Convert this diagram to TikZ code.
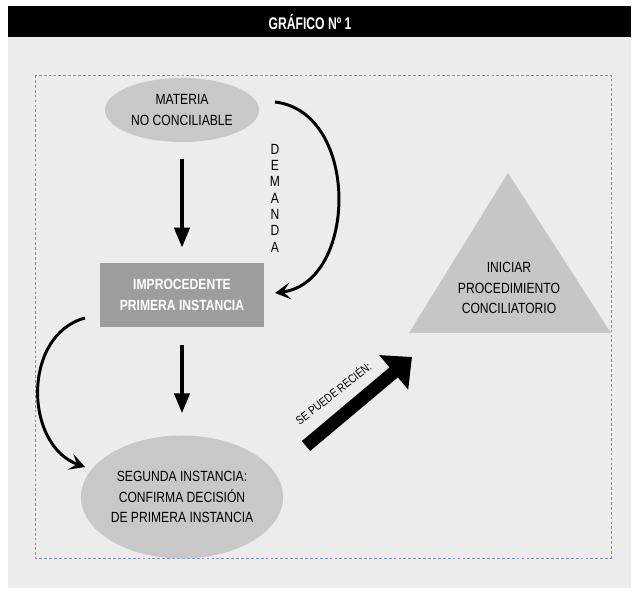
\documentclass[tikz,border=0pt]{standalone}
\usepackage{fontspec}
\setmainfont{Liberation Sans}[FakeStretch=0.82]
\newfontfamily\titlefont{Liberation Sans}[FakeStretch=0.72]
\usepackage{tikz}
\usetikzlibrary{shapes.geometric,arrows.meta}
\definecolor{fondo}{HTML}{ECECEC}
\definecolor{elipsegris}{HTML}{C8C8C8}
\definecolor{cajagris}{HTML}{9D9D9D}
\definecolor{triangris}{HTML}{C6C6C6}
\definecolor{marco}{HTML}{7393CC}

\begin{document}
\begin{tikzpicture}[x=0.025cm, y=-0.025cm,
		font=\fontsize{10.5}{14.5}\selectfont,
		elipse_style/.style={ellipse,fill=elipsegris,align=center,inner sep=0pt},
		caja_style/.style={rectangle,fill=cajagris,text=white,align=center,font=\fontsize{10.5}{14.5}\selectfont\bfseries,minimum width=4.1cm,minimum height=1.6cm},
		recta_style/.style={draw=black,line width=2.8pt,-{Triangle[width=10.7pt,length=14.2pt]}},
		curva_style/.style={draw=black,line width=2.1pt,-{Stealth[length=11pt,width=12pt,inset=5pt]}},
		flecha_style/.style={draw=black,line width=9.2pt,-{Triangle[width=31pt,length=17pt]}}]
		
		\useasboundingbox (0,0) rectangle (639,597);
		\fill[white] (0,0) rectangle (639,597);
		\fill[fondo] (8,37) rectangle (631,588);
		\fill[black] (8,6) rectangle (631,37);
		\draw[marco,line width=0.5pt,dash pattern=on 2pt off 1.5pt] (35,75) rectangle (611,558);
		\fill[triangris] (409,333) -- (508,173) -- (611,333) -- cycle;
		
		\node[text=white,font=\titlefont\fontsize{12}{14}\selectfont\bfseries] (titulo) at (310,22) {GRÁFICO Nº 1};
		\node[elipse_style,minimum width=3.85cm,minimum height=1.6cm] (materia) at (182,110) {MATERIA\\NO CONCILIABLE};
		\node[caja_style] (improc) at (182,295) {IMPROCEDENTE\\PRIMERA INSTANCIA};
		\node[elipse_style,minimum width=5.05cm,minimum height=3.075cm] (segunda) at (182,497) {SEGUNDA INSTANCIA:\\CONFIRMA DECISIÓN\\DE PRIMERA INSTANCIA};
		\node[align=center] (inicio) at (509,288) {INICIAR\\PROCEDIMIENTO\\CONCILIATORIO};
		\node[align=center,font=\fontsize{10.5}{11.6}\selectfont] (demanda) at (275,198) {D\\E\\M\\A\\N\\D\\A};
		\node[rotate=38,font=\fontsize{8.5}{10}\selectfont] (recien) at (333,393) {SE PUEDE RECIÉN:};
		
		\coordinate (d0) at (275,102);
		\coordinate (d1) at (275,293);
		\coordinate (s0) at (85,318);
		\coordinate (s1) at (85,467);
		\coordinate (f0) at (306,446);
		\coordinate (f1) at (412,357);
		
		\draw[recta_style, shorten <=12pt, shorten >=10.7pt]  (materia) -- (improc);
		\draw[recta_style, shorten <=12.8pt, shorten >=15.6pt]  (improc) -- (segunda);
		\draw[curva_style]  (d0) .. controls (360,112) and (358,282) .. (d1);
		\draw[curva_style]  (s0) .. controls (22,335) and (24,445) .. (s1);
		\draw[flecha_style]  (f0) -- (f1);
		
		\end{tikzpicture}
\end{document}
